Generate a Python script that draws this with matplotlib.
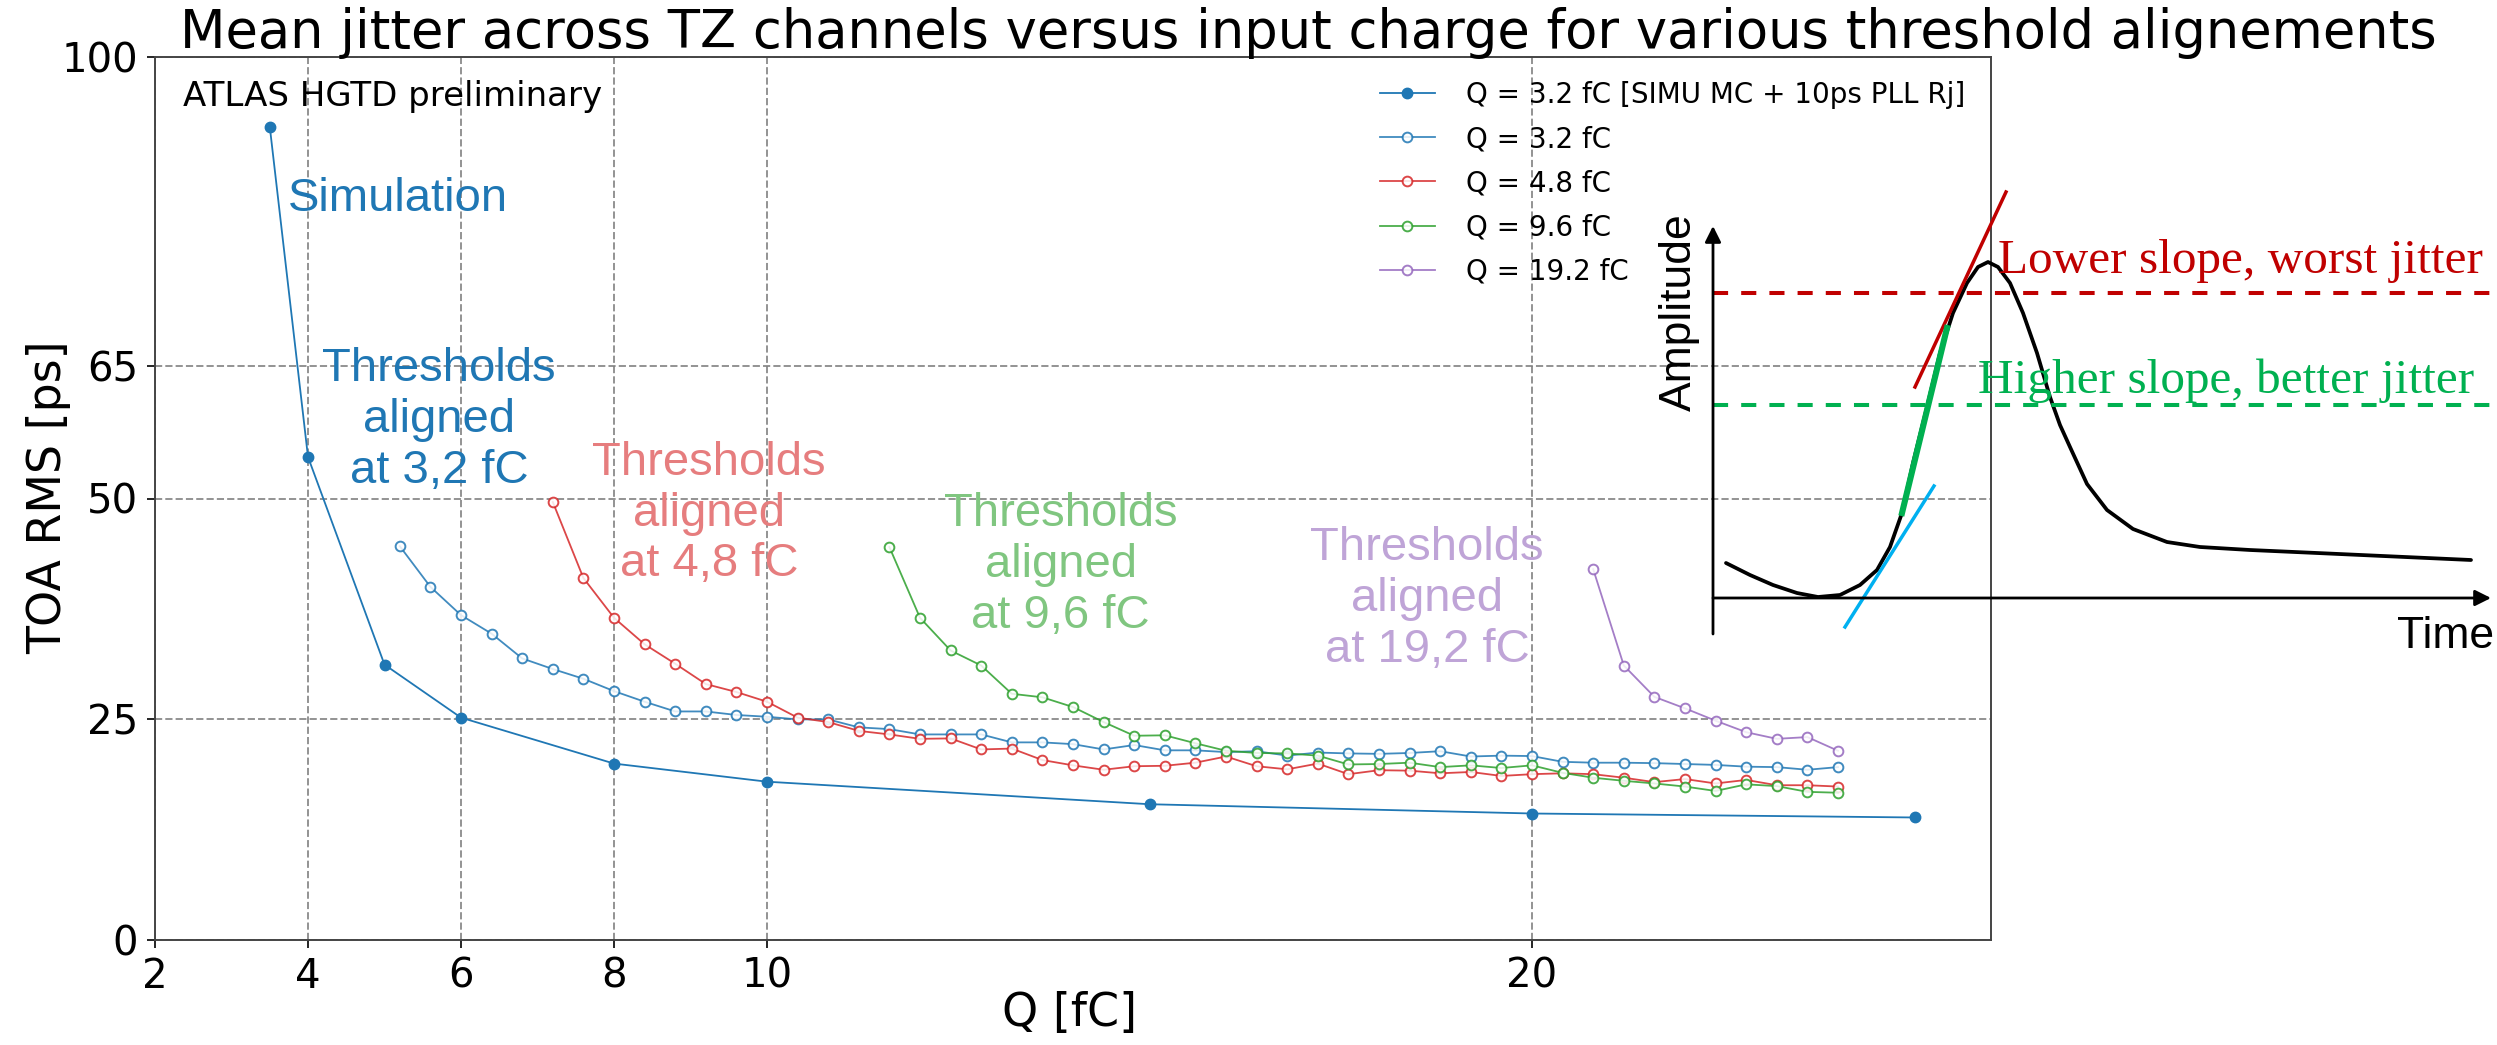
import matplotlib
matplotlib.use("Agg")
import matplotlib.pyplot as plt
import numpy as np

# ---------------- data ----------------
sim_q = [3.5, 4.0, 5.0, 6.0, 8.0, 10.0, 15.0, 20.0, 25.0]
sim_rms = [92.1, 54.7, 31.2, 25.2, 20.0, 17.95, 15.4, 14.35, 13.9]

q32_q = [5.2, 5.6, 6.0, 6.4, 6.8, 7.2, 7.6, 8.0, 8.4, 8.8, 9.2, 9.6,
         10.0, 10.4, 10.8, 11.2, 11.6, 12.0, 12.4, 12.8, 13.2, 13.6, 14.0, 14.4, 14.8,
         15.2, 15.6, 16.0, 16.4, 16.8, 17.2, 17.6, 18.0, 18.4, 18.8, 19.2, 19.6, 20.0,
         20.4, 20.8, 21.2, 21.6, 22.0, 22.4, 22.8, 23.2, 23.6, 24.0]
q32_rms = [44.6, 40.0, 36.8, 34.7, 31.9, 30.7, 29.6, 28.2, 27.0, 25.9, 25.9, 25.5,
           25.3, 25.0, 25.0, 24.1, 23.9, 23.3, 23.3, 23.3, 22.4, 22.4, 22.2, 21.6, 22.1,
           21.5, 21.5, 21.3, 21.4, 20.9, 21.25, 21.15, 21.1, 21.2, 21.4, 20.8, 20.9, 20.85,
           20.2, 20.1, 20.1, 20.05, 19.95, 19.85, 19.65, 19.6, 19.3, 19.6]

q48_q = [7.2, 7.6, 8.0, 8.4, 8.8, 9.2, 9.6,
         10.0, 10.4, 10.8, 11.2, 11.6, 12.0, 12.4, 12.8, 13.2, 13.6, 14.0, 14.4, 14.8,
         15.2, 15.6, 16.0, 16.4, 16.8, 17.2, 17.6, 18.0, 18.4, 18.8, 19.2, 19.6, 20.0,
         20.4, 20.8, 21.2, 21.6, 22.0, 22.4, 22.8, 23.2, 23.6, 24.0]
q48_rms = [49.6, 41.0, 36.5, 33.5, 31.3, 29.0, 28.1,
           27.0, 25.2, 24.7, 23.7, 23.3, 22.8, 22.85, 21.6, 21.7, 20.4, 19.8, 19.3, 19.7,
           19.75, 20.1, 20.8, 19.7, 19.35, 20.0, 18.8, 19.25, 19.2, 18.9, 19.05, 18.6, 18.8,
           18.9, 18.8, 18.4, 17.9, 18.25, 17.75, 18.15, 17.55, 17.55, 17.4]

q96_q = [11.6, 12.0, 12.4, 12.8, 13.2, 13.6, 14.0, 14.4, 14.8,
         15.2, 15.6, 16.0, 16.4, 16.8, 17.2, 17.6, 18.0, 18.4, 18.8, 19.2, 19.6, 20.0,
         20.4, 20.8, 21.2, 21.6, 22.0, 22.4, 22.8, 23.2, 23.6, 24.0]
q96_rms = [44.5, 36.5, 32.8, 31.1, 27.9, 27.5, 26.4, 24.7, 23.15,
           23.2, 22.3, 21.45, 21.2, 21.15, 20.9, 19.9, 19.95, 20.1, 19.6, 19.8, 19.5, 19.8,
           18.95, 18.4, 18.05, 17.75, 17.4, 16.9, 17.65, 17.45, 16.8, 16.7]

q192_q = [20.8, 21.2, 21.6, 22.0, 22.4, 22.8, 23.2, 23.6, 24.0]
q192_rms = [42.0, 31.1, 27.55, 26.25, 24.85, 23.55, 22.8, 23.0, 21.45]

labels = ["Q = 3.2 fC [SIMU MC + 10ps PLL Rj]", "Q = 3.2 fC", "Q = 4.8 fC",
          "Q = 9.6 fC", "Q = 19.2 fC"]
xticks = [2, 4, 6, 8, 10, 20]
yticks = [0, 25, 50, 65, 100]

# schematic pulse drawing (figure pixel coordinates)
pulse_x = [1726, 1750, 1773, 1797, 1818, 1840, 1860, 1877, 1890, 1902, 1913, 1927,
           1940, 1953, 1967, 1978, 1988, 1998, 2010, 2023, 2037, 2050, 2060, 2070,
           2087, 2107, 2133, 2167, 2200, 2250, 2317, 2383, 2471]
pulse_y = [563, 575, 585, 593, 597, 595, 585, 570, 547, 513, 463, 407,
           353, 313, 283, 267, 262, 267, 283, 313, 353, 397, 425, 447,
           484, 510, 529, 542, 547, 550, 553, 556, 560]

# ---------------- figure ----------------
W, H = 2497, 1045
fig = plt.figure(figsize=(W / 100, H / 100), dpi=100)
ax = fig.add_axes([155 / W, 1 - 940.3 / H, (1991 - 155) / W, (940.3 - 56.7) / H])

ax.plot(sim_q, sim_rms, '-o', color='#1f77b4', lw=1.3, ms=7.5, label=labels[0], zorder=5)
series = [(q32_q, q32_rms, '#1f77b4'), (q48_q, q48_rms, '#d62728'),
          (q96_q, q96_rms, '#2ca02c'), (q192_q, q192_rms, '#9467bd')]
for (xq, yr, c), lab in zip(series, labels[1:]):
    ax.plot(xq, yr, '-o', color=c, lw=1.3, ms=7, mfc='white', mec=c, mew=1.4,
            alpha=0.85, label=lab, zorder=4)

ax.set_xlim(2, 26)
ax.set_ylim(0, 100)
ax.set_xticks(xticks)
ax.set_yticks(yticks)
ax.grid(True, ls='--', color='gray', lw=1.4, alpha=0.85)
ax.tick_params(labelsize=29, length=6, width=1.2, pad=6)
for s in ax.spines.values():
    s.set_color('#444444')
    s.set_linewidth(1.4)
ax.set_xlabel('Q [fC]', fontsize=33, va='center')
ax.set_ylabel('TOA RMS [ps]', fontsize=33, va='center')
ax.xaxis.set_label_coords(0.498, -0.083)
ax.yaxis.set_label_coords(-0.058, 0.502)

ax.text(0.015, 0.955, 'ATLAS HGTD preliminary', transform=ax.transAxes,
        fontsize=24.5, ha='left', va='center')

fig.text(1308 / W, 1 - 33 / H,
         'Mean jitter across TZ channels versus input charge for various threshold alignements',
         fontsize=38, ha='center', va='center')

leg = ax.legend(loc='upper left', bbox_to_anchor=(1379.5 / W, 1 - 81 / H),
                bbox_transform=fig.transFigure, frameon=False, fontsize=20,
                borderpad=0, borderaxespad=0, handlelength=2.0, handletextpad=1.1,
                labelspacing=0.58)

ann_font = dict(family='Liberation Sans', fontsize=34, ha='center', va='center',
                linespacing=1.2)
ax.text(5.18, 83.9, 'Simulation', color='#1f77b4', **ann_font)
ax.text(5.71, 58.9, 'Thresholds\naligned\nat 3,2 fC', color='#1f77b4', **ann_font)
ax.text(9.24, 48.3, 'Thresholds\naligned\nat 4,8 fC', color='#e67d7e', **ann_font)
ax.text(13.84, 42.5, 'Thresholds\naligned\nat 9,6 fC', color='#80c680', **ann_font)
ax.text(18.63, 38.6, 'Thresholds\naligned\nat 19,2 fC', color='#bfa4d7', **ann_font)

# ---------------- schematic overlay ----------------
ov = fig.add_axes([0, 0, 1, 1], facecolor='none')
ov.set_xlim(0, W)
ov.set_ylim(H, 0)
ov.axis('off')

ov.annotate('', xy=(1713, 226), xytext=(1713, 634),
            arrowprops=dict(arrowstyle='-|>', lw=2.0, color='k', mutation_scale=24,
                            shrinkA=0, shrinkB=0))
ov.annotate('', xy=(2491, 598), xytext=(1713, 598),
            arrowprops=dict(arrowstyle='-|>', lw=2.0, color='k', mutation_scale=24,
                            shrinkA=0, shrinkB=0))
ov.plot(pulse_x, pulse_y, color='k', lw=2.7, solid_joinstyle='round', solid_capstyle='round')
ov.plot([1713, W], [292.5, 292.5], color='#c00000', lw=2.9, dashes=(3.75, 3.25))
ov.plot([1713, W], [405, 405], color='#00b050', lw=2.9, dashes=(3.75, 3.25))
ov.plot([1915, 2006], [387, 192], color='#c00000', lw=2.5)
ov.plot([1902, 1947], [513, 328], color='#00b050', lw=4.4)
ov.plot([1845, 1934], [627, 486], color='#00b0f0', lw=2.5)

ov.text(1679, 312, 'Amplitude', rotation=90, family='Liberation Sans', fontsize=32,
        ha='center', va='center')
ov.text(2397, 637, 'Time', family='Liberation Sans', fontsize=32, ha='left', va='center')
ov.text(1998, 272.7, 'Lower slope, worst jitter', family='Liberation Serif', fontsize=35.5,
        color='#c00000', ha='left', va='baseline')
ov.text(1978, 393.3, 'Higher slope, better jitter', family='Liberation Serif', fontsize=35.5,
        color='#00b050', ha='left', va='baseline')

fig.savefig('out.png', dpi=100)
